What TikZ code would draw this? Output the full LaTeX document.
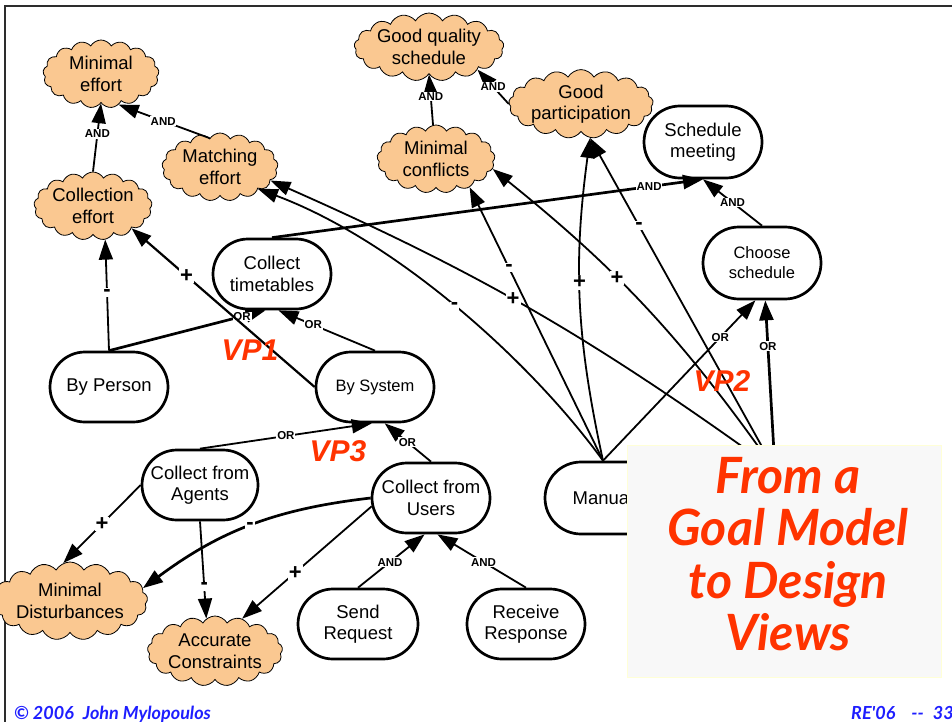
\documentclass[tikz,border=0pt]{standalone}
\usepackage{fontspec}
\setmainfont{Liberation Sans}
\newfontfamily\handfont{Lato}
\usetikzlibrary{shapes.symbols,shapes.misc,arrows.meta}
\definecolor{cloudfill}{RGB}{250,200,145}
\definecolor{vpred}{RGB}{255,51,0}
\definecolor{footblue}{RGB}{30,30,255}
\definecolor{panelfill}{RGB}{248,248,248}
\definecolor{panelline}{RGB}{255,255,215}
\definecolor{framegray}{RGB}{45,45,45}
\begin{document}
\begin{tikzpicture}[x=1pt,y=-1pt,
  goalcloud/.style={cloud, cloud puffs=17, cloud puff arc=120, cloud ignores aspect,
    draw=black, line width=0.8pt, fill=cloudfill, minimum width=116pt, minimum height=68pt,
    inner sep=0pt, align=center, font=\fontsize{18.5}{21.5}\selectfont},
  task/.style={rounded rectangle, draw=black, line width=2.7pt, fill=white,
    minimum width=118pt, minimum height=70pt, inner sep=0pt, align=center,
    font=\fontsize{18.5}{21.5}\selectfont},
  smalltext/.style={font=\fontsize{16.5}{20}\selectfont},
  link/.style={line width=1.8pt, -{Triangle[length=20pt,width=14pt]}},
  heavy/.style={link, line width=2.7pt},
  lab/.style={fill=white, inner sep=0.8pt, font=\fontsize{11.5}{12}\selectfont\bfseries},
  sign/.style={fill=white, inner sep=1pt, font=\fontsize{22}{22}\selectfont\bfseries},
  vp/.style={text=vpred, inner sep=0pt, font=\fontsize{30}{30}\selectfont\bfseries\itshape},
  headline/.style={text=vpred, inner sep=0pt, anchor=base, font=\handfont\fontsize{50}{52}\selectfont\bfseries\itshape},
  footer/.style={text=footblue, inner sep=0pt, anchor=base west, font=\handfont\fontsize{18}{18}\selectfont\bfseries\itshape}]
\useasboundingbox (0,0) rectangle (952,722);

% slide frame
\draw[framegray, line width=2pt] (5,722) -- (5,6) -- (952,6);

% softgoals
\node[goalcloud] (me) at (101,74) {Minimal\\effort};
\node[goalcloud] (mae) at (220,167) {Matching\\effort};
\node[goalcloud, minimum width=118pt] (ce) at (93,206) {Collection\\effort};
\node[goalcloud, minimum width=118pt] (gqs) at (429,47) {Good quality\\schedule};
\node[goalcloud, minimum width=118pt] (mc) at (436,159) {Minimal\\conflicts};
\node[goalcloud, minimum width=118pt] (gp) at (581,104) {Good\\participation};
\node[goalcloud, minimum width=126pt, minimum height=78pt] (md) at (70,601) {Minimal\\Disturbances};
\node[goalcloud, minimum height=70pt] (ac) at (215,651) {Accurate\\Constraints};

% hard goals and tasks
\node[task, minimum height=72pt] (sm) at (703,142) {Schedule\\meeting};
\node[task, minimum height=72pt, smalltext] (cs) at (762,263) {Choose\\schedule};
\node[task] (ct) at (272,274) {Collect\\timetables};
\node[task] (bp) at (109,387) {By Person};
\node[task, smalltext] (bs) at (375,387) {By System};
\node[task, minimum width=116pt] (cfa) at (200,485) {Collect from\\Agents};
\node[task] (cfu) at (431,498) {Collect from\\Users};
\node[task, minimum height=72pt, minimum width=116pt] (man) at (603,498) {Manual};
\node[task, minimum width=120pt] (sr) at (358,624) {Send\\Request};
\node[task] (rr) at (526,624) {Receive\\Response};
\coordinate (hid) at (775,470);

% decompositions
\draw[link] (ce.north) -- node[lab, pos=.55] {AND} (me.south);
\draw[link] (mae.110) -- node[lab, pos=.51] {AND} (me.-60);
\draw[link] (mc.95) -- node[lab, pos=.56] {AND} (gqs.-90);
\draw[link] (gp.west) -- node[lab, pos=.5] {AND} (gqs.-25);
\draw[heavy] (ct.north) -- node[lab, pos=.875] {AND} (sm.south);
\draw[link] (cs.north) -- node[lab, pos=.5] {AND} (sm.south);
\draw[heavy] (bp.north) -- node[lab, pos=.85] {OR} (ct.-100);
\draw[link] (bs.north) -- node[lab, pos=.64] {OR} (ct.-80);
\draw[link] (cfa.north) -- node[lab, pos=.5] {OR} (bs.-95);
\draw[link] (cfu.north) -- node[lab, pos=.51] {OR} (bs.-75);
\draw[link] (sr.north) -- node[lab, pos=.48] {AND} (cfu.-100);
\draw[link] (rr.north) -- node[lab, pos=.48] {AND} (cfu.-80);
\draw[link] (man.north) -- node[lab, pos=.77] {OR} (cs.-100);
\draw[heavy] (hid) -- node[lab, pos=.73] {OR} (cs.-85);

% contributions
\draw[link] (bp.north) -- node[sign, pos=.52] {-} (ce.-70);
\draw[link, line width=2.2pt] (bs.west) -- node[sign, pos=.7] {+} (ce.-30);
\draw[link] (cfa.west) -- node[sign, pos=.5] {+} (md.100);
\draw[link] (cfa.south) -- node[sign, pos=.67] {-} (ac.105);
\draw[heavy] (cfu.west) to[bend right=15] node[sign, pos=.5] {-} (md.10);
\draw[link] (cfu.188) -- node[sign, pos=.59] {+} (ac.50);
\draw[link] (man.north) .. controls (530,360) and (395,240) .. node[sign, pos=.5] {-} (mae.-30);
\draw[link] (hid) to[bend right=6] node[sign, pos=.54] {+} (mae.-15);
\draw[link] (man.north) -- node[sign, pos=.705] {-} (mc.-40);
\draw[link] (hid) to[bend right=8] node[sign, pos=.61] {+} (mc.-10);
\draw[link] (man.north) to[bend left=10] node[sign, pos=.56] {+} (gp.-75);
\draw[link] (hid) -- node[sign, pos=.735] {-} (gp.-75);

% variation points
\node[vp] (vp1) at (250,350) {VP1};
\node[vp] (vp2) at (722,381) {VP2};
\node[vp] (vp3) at (338,451) {VP3};

% title panel
\node[draw=panelline, fill=panelfill, line width=1pt, minimum width=314pt, minimum height=232pt,
  inner sep=0pt, anchor=north west] (panel) at (627,445) {};
\node[headline] (h1) at (788,493) {From a};
\node[headline] (h2) at (788,545) {Goal Model};
\node[headline] (h3) at (788,598) {to Design};
\node[headline] (h4) at (788,650) {Views};

% footer
\node[footer] (copy) at (14,719) {© 2006\hspace{9pt}John Mylopoulos};
\node[footer] (slide) at (851,719) {RE\char"27 06\hspace{16pt}-{}-\hspace{9pt}33};
\end{tikzpicture}
\end{document}
